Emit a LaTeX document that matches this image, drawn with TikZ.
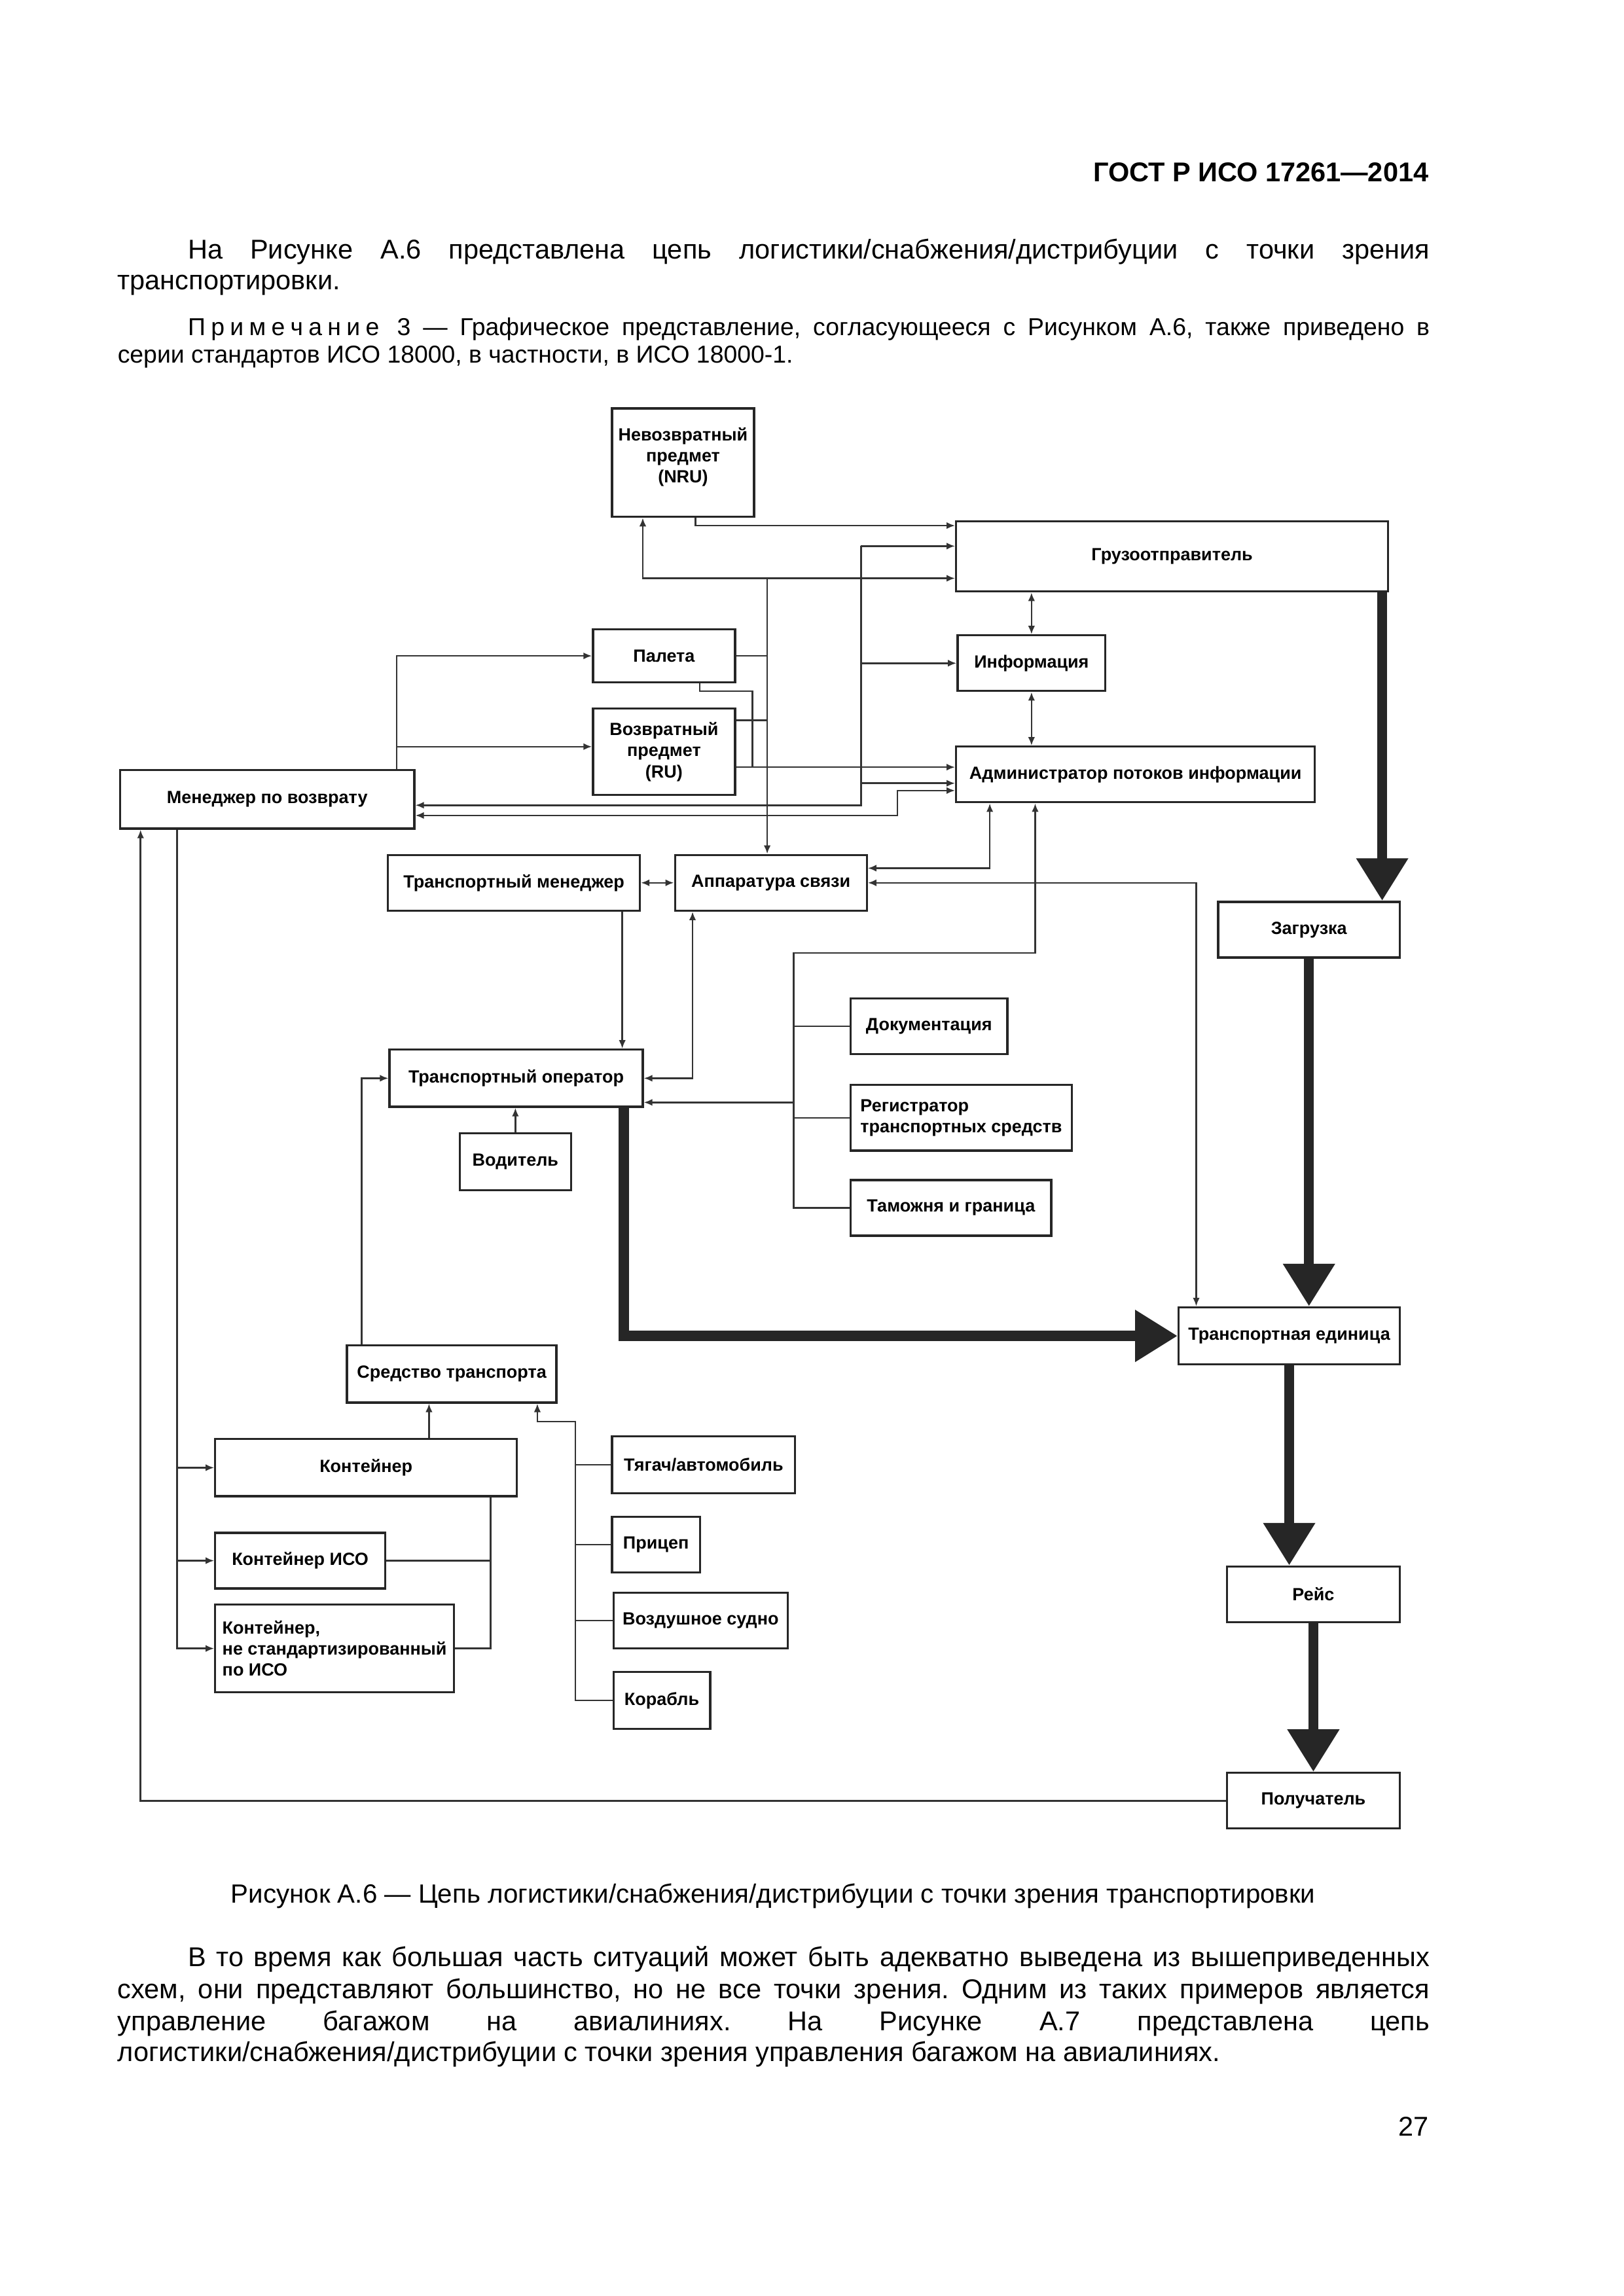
\documentclass[tikz,border=0pt]{standalone}
\usepackage{fontspec}
\setmainfont{Liberation Sans}
\usetikzlibrary{arrows.meta}
\newcommand{\spreadword}[1]{\spreadloop#1\relax}
\def\spreadloop#1{\ifx#1\relax\else#1\kern2pt\relax\expandafter\spreadloop\fi}
\frenchspacing
\begin{document}
\begin{tikzpicture}
[x=0.18938mm,y=-0.18938mm,
block/.style 2 args={rectangle,draw=black!85,line width=0.8pt,fill=white,
inner sep=1pt,align=center,minimum width=#1*0.18938mm,minimum height=#2*0.18938mm,
font=\fontsize{6.5}{7.8}\selectfont\bfseries},
link/.style={draw=black!80,line width=0.6pt},
flow/.style={draw=black!85,line width=1.3mm,-{Triangle[length=5.5mm,width=6.4mm]}},
body/.style={inner sep=0pt,font=\fontsize{10}{12}\selectfont},
note/.style={inner sep=0pt,font=\fontsize{9}{11}\selectfont},
>={Latex[length=1.1mm,width=0.9mm]}]
\path[use as bounding box,fill=white] (0,0) rectangle (1108.9,1568.3);

\node at (976,124) [anchor=base east,inner sep=0pt,font=\fontsize{10}{12}\selectfont\bfseries] (header){ГОСТ Р ИСО 17261—2014};
\node at (128,177) [anchor=base west,body] (para1a){\makebox[160.59mm][s]{На Рисунке А.6 представлена цепь логистики/снабжения/дистрибуции с точки зрения}};
\node at (80,198) [anchor=base west,body] (para1b){транспортировки.};
\node at (128,229) [anchor=base west,note] (notea){\makebox[160.59mm][s]{\spreadword{Примечание} 3 — Графическое представление, согласующееся с Рисунком А.6, также приведено в}};
\node at (80,248) [anchor=base west,note] (noteb){серии стандартов ИСО 18000, в частности, в ИСО 18000-1.};

\node at (466.5,316) [block={97}{74},text depth=5.5pt] (nru){Невозвратный\\предмет\\(NRU)};
\node at (800.5,380) [block={295}{48}] (shipper){Грузоотправитель};
\node at (453.5,448) [block={97}{36}] (pallet){Палета};
\node at (704.5,453) [block={101}{38}] (info){Информация};
\node at (453.5,513.5) [block={97}{59}] (ru){Возвратный\\предмет\\(RU)};
\node at (775.5,529) [block={245}{38}] (admin){Администратор потоков информации};
\node at (182.5,546) [block={201}{40}] (retmgr){Менеджер по возврату};
\node at (351,603) [block={172}{38}] (tmgr){Транспортный менеджер};
\node at (526.5,603) [block={131}{38}] (comm){Аппаратура связи};
\node at (894,635) [block={124}{38}] (load){Загрузка};
\node at (634.5,701) [block={107}{38}] (docs){Документация};
\node at (352.5,736.5) [block={173}{39}] (toper){Транспортный оператор};
\node at (656.5,763.5) [block={151}{45},align=left] (reg){Регистратор\\транспортных средств};
\node at (352,793.5) [block={76}{39}] (driver){Водитель};
\node at (649.5,825) [block={137}{38}] (customs){Таможня и граница};
\node at (880.5,912.5) [block={151}{39}] (tunit){Транспортная единица};
\node at (308.5,938.5) [block={143}{39}] (vehicle){Средство транспорта};
\node at (250,1002.5) [block={206}{39}] (cont){Контейнер};
\node at (480.5,1000.5) [block={125}{39}] (tractor){Тягач/автомобиль};
\node at (448,1055) [block={60}{38}] (trailer){Прицеп};
\node at (205,1066) [block={116}{38}] (isocont){Контейнер ИСО};
\node at (478.5,1107) [block={119}{38}] (aircraft){Воздушное судно};
\node at (228.5,1126) [block={163}{60},align=left] (noniso){Контейнер,\\не стандартизированный\\по ИСО};
\node at (452,1161.5) [block={66}{39}] (ship){Корабль};
\node at (897,1089) [block={118}{38}] (trip){Рейс};
\node at (897,1230) [block={118}{38}] (consignee){Получатель};

\coordinate (bus) at (588,373);
\coordinate (drop) at (524,395);
\coordinate (tree) at (542,651);
\coordinate (fork) at (393,971);

\draw [link,->] (475,0 |- nru.south) |- (shipper.west |- 0,359);
\draw [link,<->] (439,0 |- nru.south) |- (shipper.west |- drop);
\draw [link,->] (drop) -- (drop |- comm.north);
\draw [link] (pallet.east) -- (pallet.east -| drop);
\draw [link] (ru.east |- 0,492) -- (drop |- 0,492);
\draw [link] (478,0 |- pallet.south) |- (514,472) -- (514,524);
\draw [link,->] (ru.east |- 0,524) -- (admin.west |- 0,524);
\draw [link,->] (bus) -- (shipper.west |- bus);
\draw [link,->] (bus) |- (retmgr.east |- 0,550);
\draw [link,->] (bus |- info.west) -- (info.west);
\draw [link,->] (bus |- 0,535) -- (admin.west |- 0,535);
\draw [link,<->] (retmgr.east |- 0,557) -| (613,540) -- (admin.west |- 0,540);
\draw [link,<->] (info.north) -- (info.north |- shipper.south);
\draw [link,<->] (info.south) -- (info.south |- admin.north);

\draw [link,->] (271,0 |- retmgr.north) |- (pallet.west);
\draw [link,->] (271,510) -- (ru.west |- 0,510);
\draw [link,->] (121,0 |- retmgr.south) |- (noniso.west);
\draw [link,->] (121,0 |- cont.west) -- (cont.west);
\draw [link,->] (121,0 |- isocont.west) -- (isocont.west);
\draw [link,->] (consignee.west) -| (96,0 |- retmgr.south);

\draw [link,<->] (tmgr.east) -- (comm.west);
\draw [link,->] (425,0 |- tmgr.south) -- (425,0 |- toper.north);
\draw [link,<->] (473,0 |- comm.south) |- (toper.east);
\draw [link,<->] (comm.east |- 0,593) -| (676,0 |- admin.south);
\draw [link,<->] (comm.east) -| (817,0 |- tunit.north);
\draw [link,->] (customs.west) -| (tree) -| (707,0 |- admin.south);
\draw [link] (tree |- docs.west) -- (docs.west);
\draw [link] (tree |- reg.west) -- (reg.west);
\draw [link,->] (tree |- 0,753) -- (toper.east |- 0,753);
\draw [link,->] (247,0 |- vehicle.north) |- (toper.west);
\draw [link,->] (driver.north) -- (driver.north |- toper.south);

\draw [link,->] (293,0 |- cont.north) -- (293,0 |- vehicle.south);
\draw [link] (335,0 |- cont.south) |- (noniso.east);
\draw [link] (isocont.east) -- (isocont.east -| 335,0);
\draw [link,->] (ship.west) -| (fork) -| (367,0 |- vehicle.south);
\draw [link] (fork |- tractor.west) -- (tractor.west);
\draw [link] (fork |- trailer.west) -- (trailer.west);
\draw [link] (fork |- aircraft.west) -- (aircraft.west);

\draw [flow] (944,0 |- shipper.south) -- (944,0 |- load.north);
\draw [flow] (load.south) -- (load.south |- tunit.north);
\draw [flow] (426,0 |- toper.south) |- (tunit.west);
\draw [flow] (tunit.south) -- (tunit.south |- trip.north);
\draw [flow] (trip.south) -- (consignee.north);

\node at (528,1300) [anchor=base,body,font=\fontsize{9.7}{12}\selectfont] (caption){Рисунок А.6 — Цепь логистики/снабжения/дистрибуции с точки зрения транспортировки};
\node at (128,1343) [anchor=base west,body] (para2a){\makebox[160.59mm][s]{В то время как большая часть ситуаций может быть адекватно выведена из вышеприведенных}};
\node at (80,1365) [anchor=base west,body] (para2b){\makebox[169.68mm][s]{схем, они представляют большинство, но не все точки зрения. Одним из таких примеров является}};
\node at (80,1387) [anchor=base west,body] (para2c){\makebox[169.68mm][s]{управление багажом на авиалиниях. На Рисунке А.7 представлена цепь}};
\node at (80,1408) [anchor=base west,body] (para2d){логистики/снабжения/дистрибуции с точки зрения управления багажом на авиалиниях.};
\node at (976,1459) [anchor=base east,body] (pagenum){27};
\end{tikzpicture}
\end{document}
